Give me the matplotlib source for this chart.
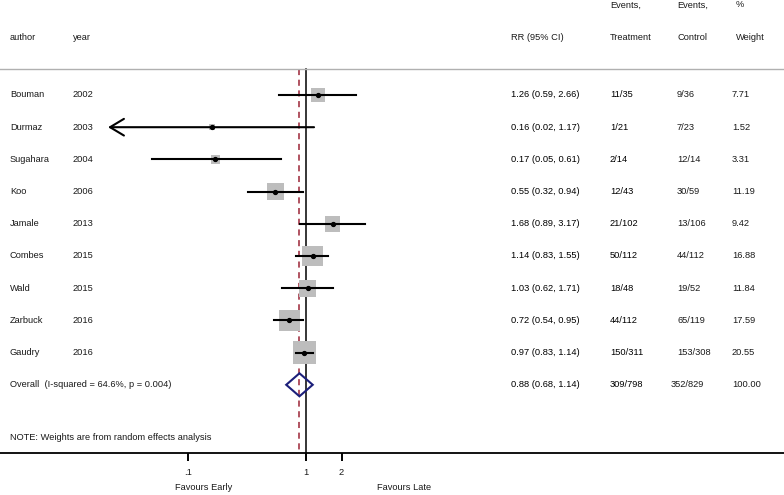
import numpy as np
import matplotlib
matplotlib.use('Agg')
import matplotlib.pyplot as plt
import matplotlib.transforms as mtransforms

plt.rcParams['font.family'] = ['Liberation Sans', 'DejaVu Sans']

# study data
authors = ['Bouman', 'Durmaz', 'Sugahara', 'Koo', 'Jamale', 'Combes', 'Wald', 'Zarbuck', 'Gaudry']
years = ['2002', '2003', '2004', '2006', '2013', '2015', '2015', '2016', '2016']
rr = [1.26, 0.16, 0.17, 0.55, 1.68, 1.14, 1.03, 0.72, 0.97]
lo = [0.59, 0.02, 0.05, 0.32, 0.89, 0.83, 0.62, 0.54, 0.83]
hi = [2.66, 1.17, 0.61, 0.94, 3.17, 1.55, 1.71, 0.95, 1.14]
ev_treat = ['11/35', '1/21', '2/14', '12/43', '21/102', '50/112', '18/48', '44/112', '150/311']
ev_ctrl = ['9/36', '7/23', '12/14', '30/59', '13/106', '44/112', '19/52', '65/119', '153/308']
weights = [7.71, 1.52, 3.31, 11.19, 9.42, 16.88, 11.84, 17.59, 20.55]

overall_rr, overall_lo, overall_hi = 0.88, 0.68, 1.14
overall_treat, overall_ctrl, overall_w = '309/798', '352/829', 100.00
overall_label = 'Overall  (I-squared = 64.6%, p = 0.004)'

xticks = [0.1, 1, 2]
xticklabels = ['.1', '1', '2']

W, H = 784, 495
fig = plt.figure(figsize=(W / 100, H / 100), dpi=100)
ax = fig.add_axes([0, 0, 1, 1])

# pixel -> data mapping: x = 306 + 118*log10(v), rows 32.2 px apart starting at y=95
ax.set_xscale('log')
ax.set_xlim(10 ** (-306 / 118), 10 ** ((W - 306) / 118))
row_h = 32.2
def py(p):
    return (p - 95) / row_h
ax.set_ylim(py(H), py(0))

n = len(authors)
rows = np.arange(n)
txt = mtransforms.blended_transform_factory(fig.transFigure, ax.transData)
fs = 6.7
tc = '#1a1a1a'

def fx(p):
    return p / W

# headers
ax.text(fx(10), py(38), 'author', transform=txt, fontsize=fs, va='center', color=tc)
ax.text(fx(73), py(38), 'year', transform=txt, fontsize=fs, va='center', color=tc)
ax.text(fx(511), py(38), 'RR (95% CI)', transform=txt, fontsize=fs, va='center', color=tc)
ax.text(fx(610), py(5), 'Events,', transform=txt, fontsize=fs, va='center', color=tc)
ax.text(fx(610), py(38), 'Treatment', transform=txt, fontsize=fs, va='center', color=tc)
ax.text(fx(677), py(5), 'Events,', transform=txt, fontsize=fs, va='center', color=tc)
ax.text(fx(677), py(38), 'Control', transform=txt, fontsize=fs, va='center', color=tc)
ax.text(fx(736), py(5), '%', transform=txt, fontsize=fs, va='center', color=tc)
ax.text(fx(736), py(38), 'Weight', transform=txt, fontsize=fs, va='center', color=tc)

ax.axhline(py(69), color='#b0b0b0', lw=1)

# reference lines
ax.plot([1, 1], [py(69), py(453)], color='black', lw=1.1, zorder=1)
ax.plot([overall_rr, overall_rr], [py(69), py(453)], color='#9b2335', lw=1.1,
        ls=(0, (4, 3)), zorder=1)

# study rows
for i in range(n):
    ax.text(fx(10), rows[i], authors[i], transform=txt, fontsize=fs, va='center', color=tc)
    ax.text(fx(73), rows[i], years[i], transform=txt, fontsize=fs, va='center', color=tc)
    ax.text(fx(511), rows[i], '%.2f (%.2f, %.2f)' % (rr[i], lo[i], hi[i]), transform=txt,
            fontsize=fs, va='center', color='black')
    ax.text(fx(610), rows[i], ev_treat[i], transform=txt, fontsize=fs, va='center', color='black')
    ax.text(fx(677), rows[i], ev_ctrl[i], transform=txt, fontsize=fs, va='center', color=tc)
    ax.text(fx(732), rows[i], '%.2f' % weights[i], transform=txt, fontsize=fs, va='center', color=tc)

ax.scatter(rr, rows, s=np.array(weights) * 13.2, marker='s', color='#bdbdbd', zorder=2, lw=0)

for i in range(n):
    if i == 1:
        ax.annotate('', xy=(0.021, rows[i]), xytext=(hi[i], rows[i]),
                    arrowprops=dict(arrowstyle='->,head_length=1.0,head_width=0.6',
                                    lw=1.5, color='black', shrinkA=0, shrinkB=0), zorder=3)
    else:
        ax.plot([lo[i], hi[i]], [rows[i], rows[i]], color='black', lw=1.5, zorder=3)
ax.plot(rr, rows, 'o', color='black', ms=2.8, zorder=4)

# overall
yo = n
dh = 11.5 / row_h
ax.fill([overall_lo, overall_rr, overall_hi, overall_rr],
        [yo, yo - dh, yo, yo + dh], facecolor='none', edgecolor='#1c1f7a', lw=1.5, zorder=4)
ax.text(fx(10), yo, overall_label, transform=txt, fontsize=fs, va='center', color=tc)
ax.text(fx(511), yo, '%.2f (%.2f, %.2f)' % (overall_rr, overall_lo, overall_hi), transform=txt,
        fontsize=fs, va='center', color='black')
ax.text(fx(610), yo, overall_treat, transform=txt, fontsize=fs, va='center', color='black')
ax.text(fx(671), yo, overall_ctrl, transform=txt, fontsize=fs, va='center', color=tc)
ax.text(fx(732), yo, '%.2f' % overall_w, transform=txt, fontsize=fs, va='center', color=tc)

ax.text(fx(10), py(437), 'NOTE: Weights are from random effects analysis', transform=txt,
        fontsize=fs, va='center', color=tc)

# x axis
for s in ['top', 'left', 'right']:
    ax.spines[s].set_visible(False)
ax.spines['bottom'].set_position(('data', py(453)))
ax.spines['bottom'].set_linewidth(1.3)
ax.set_xticks(xticks)
ax.set_xticklabels(xticklabels)
ax.xaxis.set_minor_locator(matplotlib.ticker.NullLocator())
ax.tick_params(axis='x', direction='out', length=6, width=1.4, labelsize=fs, pad=5,
               labelcolor=tc)
ax.set_yticks([])

ax.text(fx(204), py(487), 'Favours Early', transform=txt, fontsize=fs, ha='center',
        va='center', color=tc)
ax.text(fx(404), py(487), 'Favours Late', transform=txt, fontsize=fs, ha='center',
        va='center', color=tc)

fig.savefig('out.png', dpi=100, facecolor='white')
